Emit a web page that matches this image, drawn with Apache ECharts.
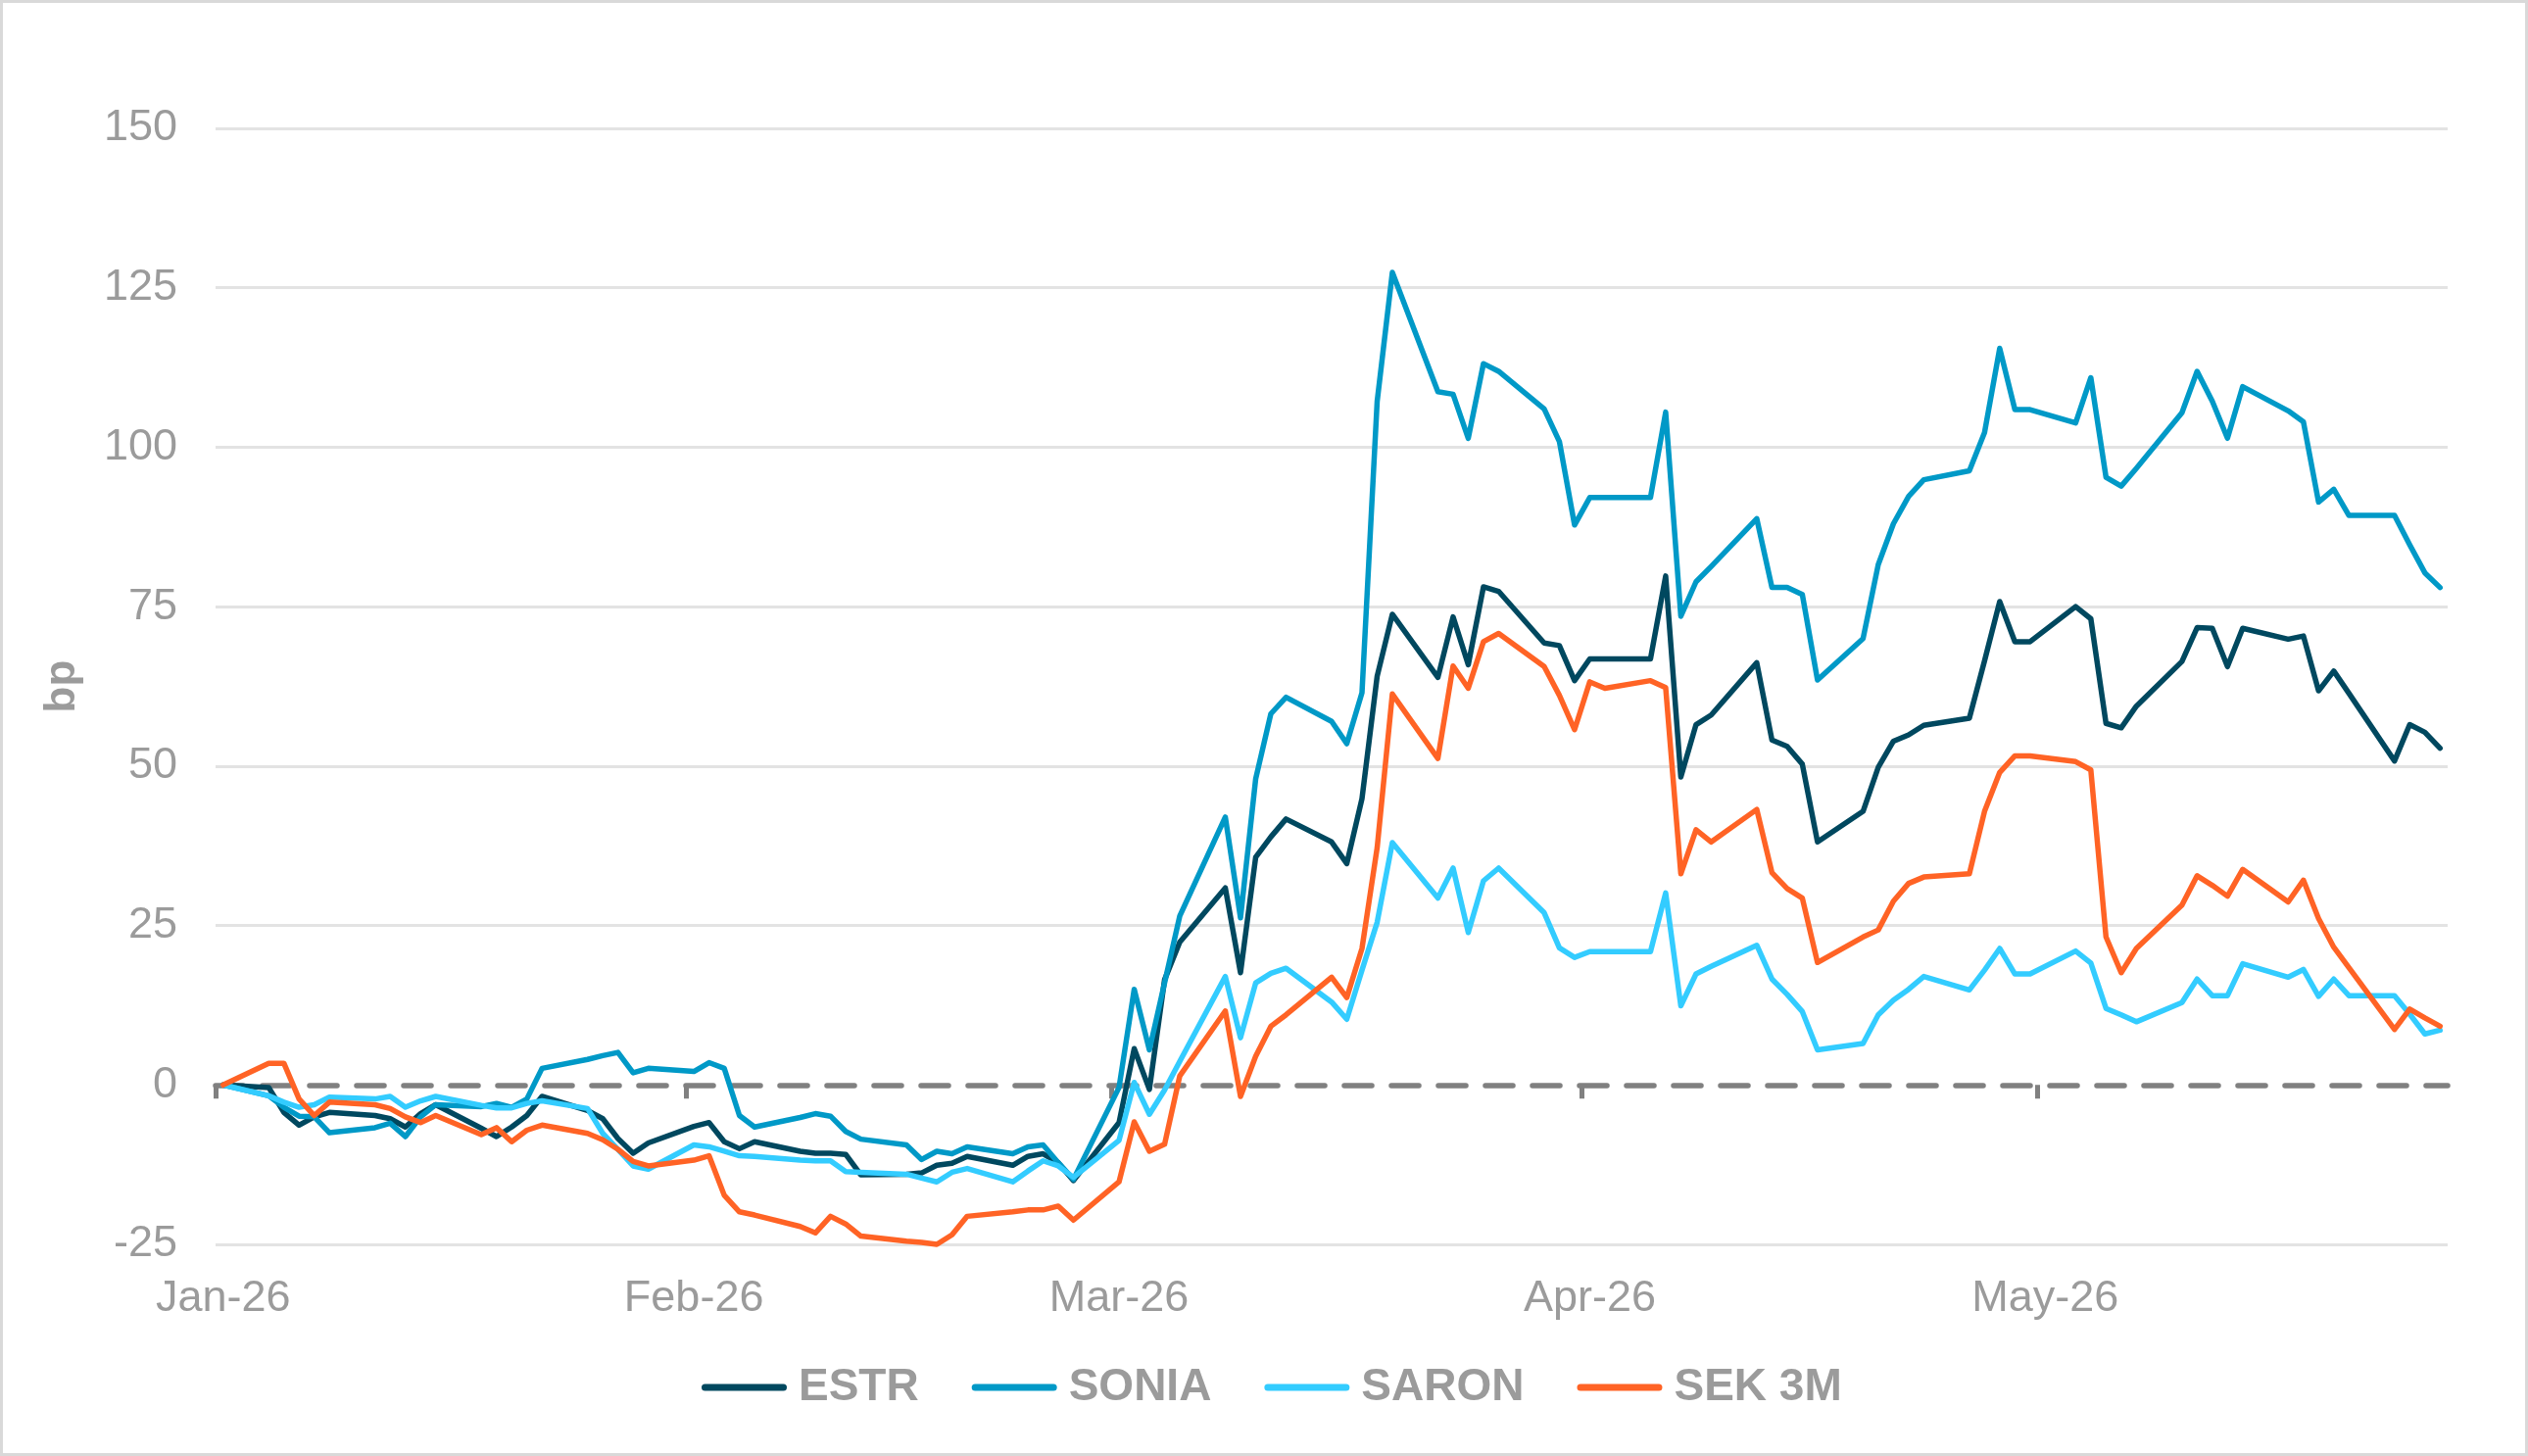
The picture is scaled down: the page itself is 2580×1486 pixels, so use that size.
<!DOCTYPE html>
<html>
<head>
<meta charset="utf-8">
<title>ESTR / SONIA / SARON / SEK 3M</title>
<script src="https://cdn.jsdelivr.net/npm/echarts@6/dist/echarts.min.js"></script>
<style>
html, body { margin: 0; padding: 0; background: #ffffff; }
#chart { width: 2580px; height: 1486px; }
</style>
</head>
<body>
<div id="chart"></div>
<script>
// business days, 2026 (MM-DD)
var dates = [
    '01-02', '01-05', '01-06', '01-07', '01-08', '01-09', '01-12', '01-13', '01-14', '01-15', '01-16',
    '01-19', '01-20', '01-21', '01-22', '01-23', '01-26', '01-27', '01-28', '01-29', '01-30',
    '02-02', '02-03', '02-04', '02-05', '02-06', '02-09', '02-10', '02-11', '02-12', '02-13',
    '02-16', '02-17', '02-18', '02-19', '02-20', '02-23', '02-24', '02-25', '02-26', '02-27',
    '03-02', '03-03', '03-04', '03-05', '03-06', '03-09', '03-10', '03-11', '03-12', '03-13',
    '03-16', '03-17', '03-18', '03-19', '03-20', '03-23', '03-24', '03-25', '03-26', '03-27', '03-30', '03-31',
    '04-01', '04-02', '04-03', '04-06', '04-07', '04-08', '04-09', '04-10', '04-13', '04-14', '04-15', '04-16', '04-17',
    '04-20', '04-21', '04-22', '04-23', '04-24', '04-27', '04-28', '04-29', '04-30',
    '05-01', '05-04', '05-05', '05-06', '05-07', '05-08', '05-11', '05-12', '05-13', '05-14', '05-15',
    '05-18', '05-19', '05-20', '05-21', '05-22', '05-25', '05-26', '05-27', '05-28'
];

// change since start, bp
var estr = [
    0, -0.4, -4.3, -6.3, -5.0, -4.3, -4.8, -5.3, -6.6, -4.5, -3.1, -6.8, -8.1, -6.6, -4.8, -1.8, -4.0, -5.3, -8.4, -10.7, -9.1,
    -6.5, -5.9, -8.9, -10.0, -8.9, -10.4, -10.7, -10.7, -10.9, -14.1, -14.0, -13.8, -12.6, -12.3, -11.2, -12.6, -11.2, -10.8, -12.2, -15.0,
    -5.9, 5.7, -0.7, 16.5, 22.4, 30.9, 17.6, 35.7, 38.9, 41.7, 38.1, 34.7, 44.9, 64.1, 73.8, 63.9, 73.4, 65.9, 78.1, 77.4, 69.3, 68.9,
    63.4, 66.8, 66.8, 66.8, 79.8, 48.3, 56.5, 58.0, 66.2, 54.1, 53.1, 50.3, 38.1, 42.9, 49.8, 53.9, 54.9, 56.4, 57.5, 66.5, 75.8, 69.5,
    69.5, 75.0, 73.1, 56.7, 56.0, 59.4, 66.4, 71.7, 71.6, 65.6, 71.6, 69.9, 70.4, 61.8, 64.9, 61.4, 50.8, 56.5, 55.3, 52.8
];
var sonia = [
    0, -1.7, -3.5, -4.9, -5.0, -7.5, -6.7, -6.0, -8.1, -5.0, -3.1, -3.4, -2.9, -3.5, -2.2, 2.6, 4.0, 4.6, 5.1, 1.9, 2.6,
    2.1, 3.5, 2.6, -4.8, -6.6, -5.1, -4.5, -4.9, -7.3, -8.5, -9.4, -11.7, -10.4, -10.8, -9.7, -10.8, -9.7, -9.4, -12.2, -14.8,
    -0.4, 15.0, 5.5, 16.0, 26.5, 42.0, 26.2, 48.0, 58.2, 60.8, 57.0, 53.5, 61.5, 107.2, 127.4, 108.7, 108.3, 101.4, 113.1, 111.9, 106.0, 100.9,
    87.8, 92.1, 92.1, 92.1, 105.5, 73.5, 78.9, 81.3, 88.8, 78.0, 78.0, 76.9, 63.5, 70.0, 81.6, 88.0, 92.3, 94.9, 96.3, 102.3, 115.5, 105.9,
    105.9, 103.8, 110.9, 95.3, 93.9, 96.7, 105.4, 111.9, 107.2, 101.4, 109.5, 105.7, 104.0, 91.4, 93.4, 89.3, 89.3, 84.7, 80.3, 78.0
];
var saron = [
    0, -1.7, -2.7, -3.5, -3.1, -1.9, -2.2, -1.8, -3.5, -2.5, -1.8, -3.2, -3.6, -3.6, -2.9, -2.5, -3.7, -7.6, -10.1, -12.7, -13.2,
    -9.4, -9.7, -10.4, -11.1, -11.2, -11.8, -11.9, -11.9, -13.6, -13.7, -14.0, -14.6, -15.2, -13.7, -13.1, -15.2, -13.5, -11.9, -12.7, -14.5,
    -8.7, 0.4, -4.6, -0.8, 3.7, 17.0, 7.4, 16.0, 17.5, 18.3, 13.0, 10.3, 18.0, 25.5, 38.0, 29.3, 34.0, 23.9, 32.0, 34.0, 27.0, 21.5,
    20.0, 20.9, 20.9, 20.9, 30.1, 12.4, 17.4, 18.6, 21.9, 16.6, 14.2, 11.5, 5.5, 6.5, 11.0, 13.3, 15.0, 17.0, 14.9, 18.0, 21.4, 17.4,
    17.4, 21.0, 19.1, 12.0, 11.0, 9.9, 12.9, 16.6, 14.0, 14.0, 19.0, 16.9, 18.1, 13.9, 16.6, 14.0, 14.0, 11.1, 8.0, 8.6
];
var sek3m = [
    0, 3.4, 3.4, -2.2, -4.8, -2.7, -3.1, -3.7, -5.0, -5.9, -4.8, -7.8, -6.7, -8.9, -7.1, -6.3, -7.6, -8.6, -10.1, -12.0, -12.7,
    -11.8, -11.1, -17.3, -19.9, -20.4, -22.2, -23.2, -20.6, -21.8, -23.7, -24.5, -24.7, -25.0, -23.5, -20.6, -19.9, -19.6, -19.6, -19.0, -21.2,
    -15.2, -5.8, -10.4, -9.3, 1.4, 11.6, -1.8, 4.5, 9.2, 11.0, 16.9, 13.7, 21.4, 37.2, 61.3, 51.2, 65.7, 62.2, 69.5, 70.8, 65.6, 61.1,
    55.7, 63.2, 62.2, 63.4, 62.3, 33.1, 40.0, 38.1, 43.2, 33.3, 30.8, 29.3, 19.2, 23.2, 24.3, 28.8, 31.6, 32.6, 33.1, 42.9, 49.0, 51.6,
    51.6, 50.7, 49.4, 23.2, 17.6, 21.4, 28.2, 32.8, 31.3, 29.6, 33.8, 28.7, 32.1, 26.1, 21.6, 18.4, 8.7, 11.9, 10.5, 9.2
];

// month ticks (axis starts on first data day, one tick per month from there)
var tickDates = ['01-02', '02-02', '03-02', '04-02', '05-02'];
var tickLabels = ['Jan-26', 'Feb-26', 'Mar-26', 'Apr-26', 'May-26'];
var seriesNames = ['ESTR', 'SONIA', 'SARON', 'SEK 3M'];
var seriesColors = ['#00485f', '#0099c7', '#33ccff', '#ff6325'];

var DAY = 24 * 3600 * 1000;
var FONT = "'Liberation Sans', Arial, sans-serif";
var GREY = '#9b9b9b';

// x is measured in days since the first date; a point sits in the middle of its day
function dayNo(md) {
    var p = md.split('-');
    var t = Date.UTC(2026, parseInt(p[0], 10) - 1, parseInt(p[1], 10));
    return Math.round((t - Date.UTC(2026, 0, 2)) / DAY);
}

var tickDays = tickDates.map(dayNo);
var labelDays = tickDays.map(function (d) { return d + 0.5; });

function makeData(values) {
    return dates.map(function (d, i) {
        return [dayNo(d) + 0.5, values[i]];
    });
}

var chart = echarts.init(document.getElementById('chart'), null, { renderer: 'canvas' });

var allValues = [estr, sonia, saron, sek3m];
var series = allValues.map(function (vals, i) {
    return {
        name: seriesNames[i],
        type: 'line',
        data: makeData(vals),
        showSymbol: false,
        symbol: 'none',
        clip: false,
        animation: false,
        color: seriesColors[i],
        lineStyle: { width: 5.5, color: seriesColors[i], join: 'round', cap: 'round' }
    };
});

// split lines: hide the one under the dashed zero axis
var splitColors = ['#e3e3e3', 'rgba(0,0,0,0)', '#e3e3e3', '#e3e3e3', '#e3e3e3', '#e3e3e3', '#e3e3e3', '#e3e3e3'];

var option = {
    animation: false,
    backgroundColor: '#ffffff',
    textStyle: { fontFamily: FONT },
    graphic: [{
        type: 'rect',
        shape: { x: 1.5, y: 1.5, width: 2577, height: 1483 },
        style: { fill: 'none', stroke: '#d9d9d9', lineWidth: 3 },
        silent: true
    }],
    grid: {
        left: 220,
        right: 82,
        top: 131,
        bottom: 216,
        containLabel: false,
        outerBoundsMode: 'none'
    },
    legend: {
        data: seriesNames,
        top: 1388,
        left: 711,
        itemWidth: 87,
        itemHeight: 7,
        itemGap: 54,
        icon: 'path://M3.5,0 L83.5,0 A3.5,3.5 0 0 1 83.5,7 L3.5,7 A3.5,3.5 0 0 1 3.5,0 Z',
        textStyle: {
            fontFamily: FONT,
            fontSize: 46,
            fontWeight: 'bold',
            color: GREY,
            padding: [0, 0, 0, 7]
        }
    },
    xAxis: {
        type: 'value',
        min: 0,
        max: dayNo('05-29'),
        axisLine: {
            show: true,
            onZero: true,
            lineStyle: { color: '#808080', width: 5.5, type: [28, 20] }
        },
        axisTick: {
            show: true,
            customValues: tickDays,
            length: 14,
            lineStyle: { color: '#808080', width: 5 }
        },
        axisLabel: {
            customValues: labelDays,
            // measured from the bottom of the grid here
            margin: 33,
            color: GREY,
            fontSize: 45,
            fontFamily: FONT,
            formatter: function (value) {
                for (var i = 0; i < labelDays.length; i++) {
                    if (Math.abs(labelDays[i] - value) < 0.01) {
                        return tickLabels[i];
                    }
                }
                return '';
            }
        },
        splitLine: { show: false }
    },
    yAxis: {
        type: 'value',
        min: -25,
        max: 150,
        interval: 25,
        name: 'bp',
        nameLocation: 'middle',
        nameRotate: 90,
        nameGap: 134,
        nameTextStyle: { color: GREY, fontSize: 44, fontWeight: 'bold', fontFamily: FONT },
        axisLine: { show: false },
        axisTick: { show: false },
        axisLabel: { color: GREY, fontSize: 45, margin: 39, fontFamily: FONT },
        splitLine: { show: true, lineStyle: { color: splitColors, width: 3 } }
    },
    series: series
};

chart.setOption(option);
</script>
</body>
</html>
